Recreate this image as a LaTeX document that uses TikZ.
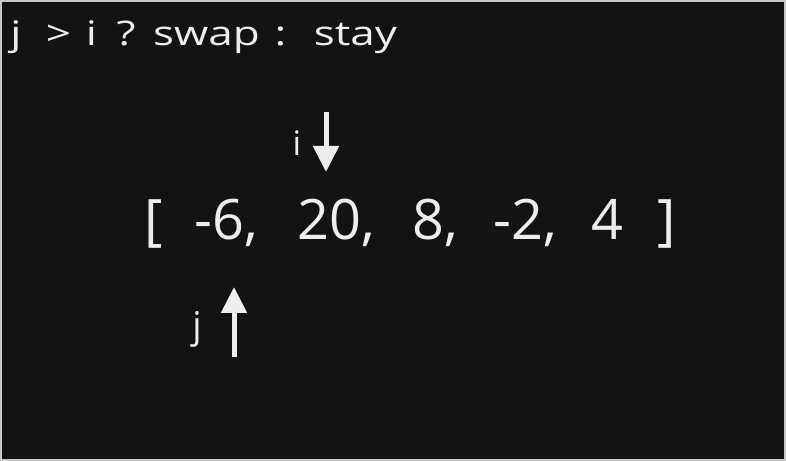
\documentclass[tikz,border=0pt]{standalone}
\usepackage{fontspec}
\setmainfont{Open Sans}
\newfontfamily\hand[FakeStretch=1.3]{Open Sans}
\usetikzlibrary{arrows.meta}
\definecolor{bg}{HTML}{131313}
\definecolor{ink}{HTML}{EDEDED}
\definecolor{frame}{HTML}{C8C8C8}
\tikzset{
  txt/.style={text=ink, inner sep=0pt, anchor=base},
  big/.style={txt, font=\fontsize{56}{60}\selectfont},
  mid/.style={txt, font=\hand\fontsize{34}{40}\selectfont},
  lbl/.style={txt, font=\fontsize{34}{40}\selectfont},
  ptr/.style={draw=ink, line width=5bp, -{Triangle[width=25bp,length=26bp]}}
}
\begin{document}
\begin{tikzpicture}[x=1bp,y=-1bp]
\fill[bg] (0,0) rectangle (786,461);
\draw[frame, line width=2bp] (1,1) rectangle (785,460);
\useasboundingbox (0,0) rectangle (786,461);
% title
\node[mid] (t1) at (16,46) {j};
\node[mid] (t2) at (58.5,46) {>};
\node[mid] (t3) at (91.5,46) {i};
\node[mid] (t4) at (126,46) {?};
\node[mid] (t5) at (206.5,46) {swap};
\node[mid] (t6) at (280.5,46) {:};
\node[mid] (t7) at (355.5,46) {stay};
% array
\node[big] (lb) at (154,240) {[};
\node[big] (a) at (226,240) {-6,};
\node[big] (b) at (336,240) {20,};
\node[big] (c) at (435.5,240) {8,};
\node[big] (d) at (525.5,240) {-2,};
\node[big] (e) at (607.5,240) {4};
\node[big] (rb) at (666.5,240) {]};
% pointers
\node[lbl] (il) at (297,156) {i};
\node[lbl, font=\fontsize{37}{40}\selectfont] (jl) at (197,339) {j};
\coordinate (itop) at (326,112);
\coordinate (itip) at (326,172);
\coordinate (jbot) at (234,357);
\coordinate (jtip) at (234,287);
\draw[ptr] (itop) -- (itip);
\draw[ptr] (jbot) -- (jtip);
\end{tikzpicture}
\end{document}
